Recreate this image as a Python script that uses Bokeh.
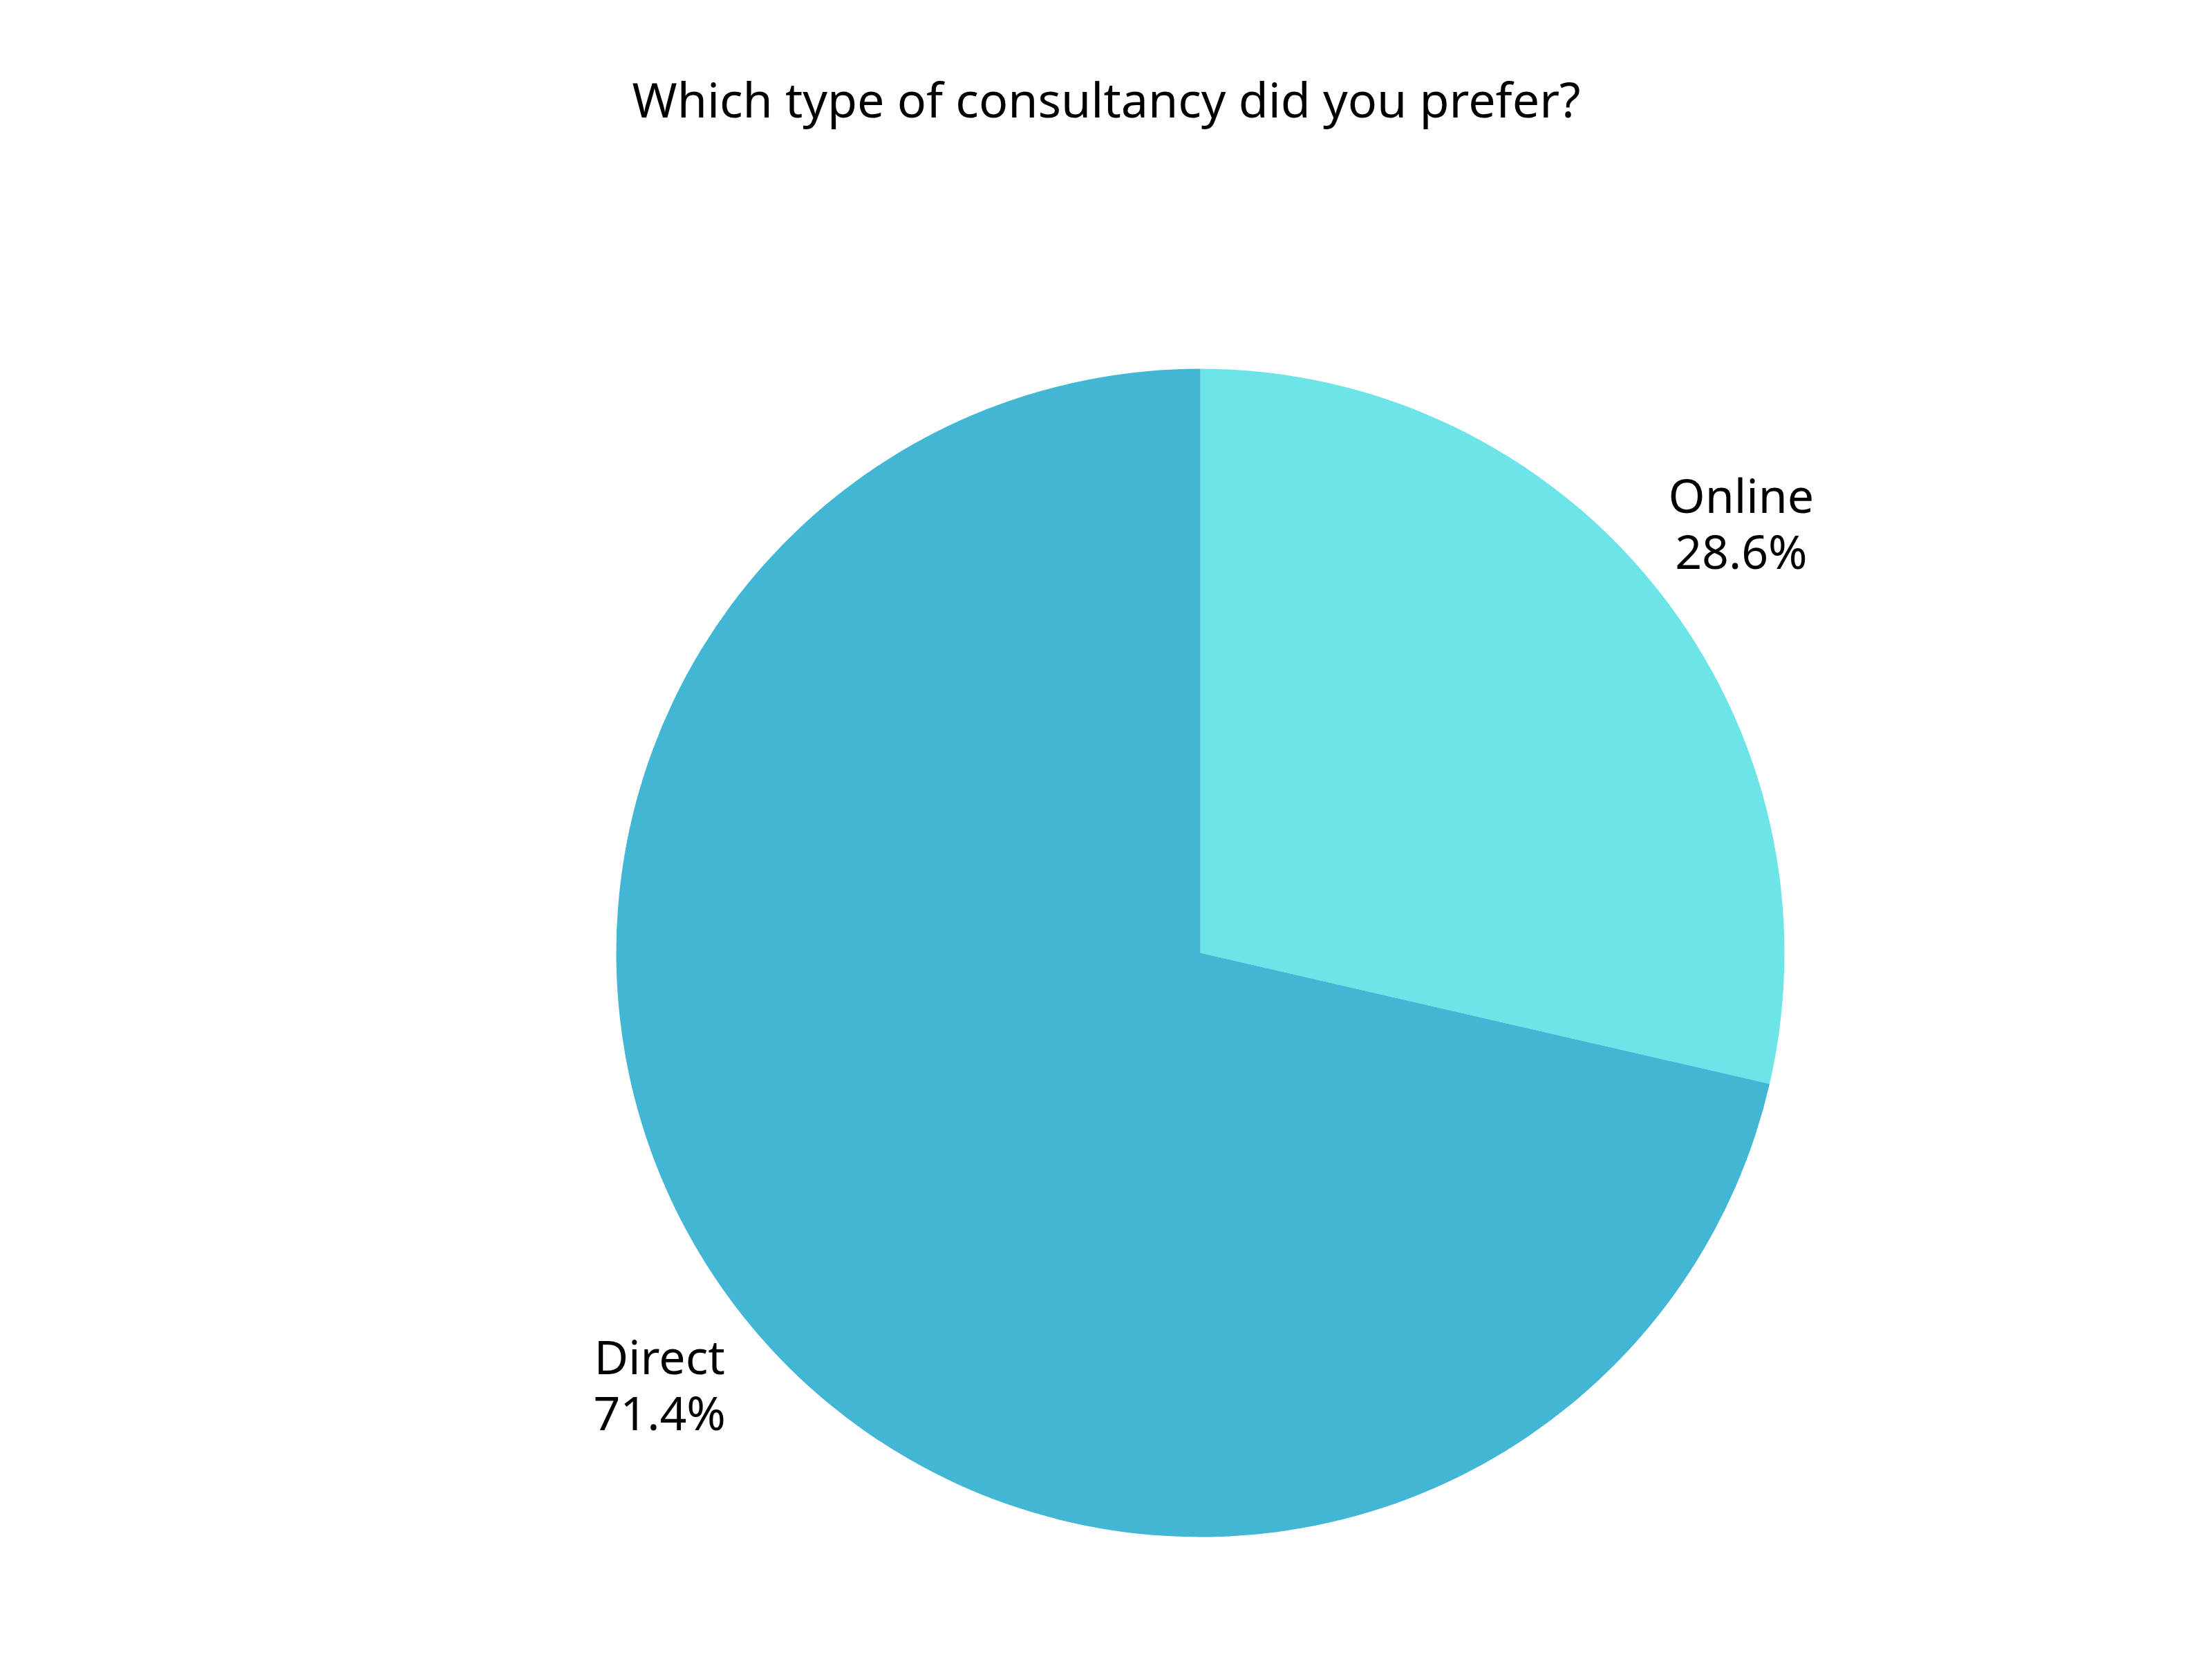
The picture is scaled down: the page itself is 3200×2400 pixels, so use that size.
import math
from bokeh.plotting import figure
from bokeh.models import Range1d, ColumnDataSource
from bokeh.core.properties import value
from bokeh.embed import file_html
from bokeh.resources import INLINE

title_text = "Which type of consultancy did you prefer?"
categories = ["Online", "Direct"]
percents = [28.6, 71.4]
colors = ["#6CE4E8", "#42B6D5"]

W, H = 3184, 2384
OFF = 0
p = figure(width=W, height=H, output_backend="svg", toolbar_location=None,
           x_range=Range1d(OFF, OFF + W), y_range=Range1d(-(OFF + H), -OFF),
           min_border=0)
p.axis.visible = False
p.grid.visible = False
p.outline_line_color = None
p.background_fill_color = "white"
p.border_fill_color = "white"

cx, cy = 1736, -1378
R = 845
label_r = 1000
TXT_SHIFT = 24  # compensate baseline rendering

total = sum(percents)
starts, ends, lx, ly = [], [], [], []
acc = 0.0
for v in percents:
    a0 = math.pi / 2 - 2 * math.pi * acc / total
    acc += v
    a1 = math.pi / 2 - 2 * math.pi * acc / total
    starts.append(a1)
    ends.append(a0)
    mid = (a0 + a1) / 2
    lx.append(cx + label_r * math.cos(mid))
    ly.append(cy + label_r * math.sin(mid))

src = ColumnDataSource(dict(start=starts, end=ends, color=colors, cat=categories))
p.wedge(x=cx, y=cy, radius=R, radius_units="screen", start_angle="start",
        end_angle="end", fill_color="color", line_color=None, source=src)

fs = "68px"
p.text(x=lx, y=[y + 16 + TXT_SHIFT for y in ly], text=categories, text_align="center",
       text_baseline="alphabetic", text_font=value("Noto Sans"),
       text_font_size=fs, text_color="#000000")
p.text(x=lx, y=[y - 65 + TXT_SHIFT for y in ly], text=[f"{v:.1f}%" for v in percents],
       text_align="center", text_baseline="alphabetic", text_font=value("Noto Sans"),
       text_font_size=fs, text_color="#000000")

p.text(x=[1600], y=[-166 + TXT_SHIFT], text=[title_text], text_align="center",
       text_baseline="alphabetic", text_font=value("Noto Sans"),
       text_font_size="70px", text_color="#000000")

open("out.html", "w").write(file_html(p, INLINE))
